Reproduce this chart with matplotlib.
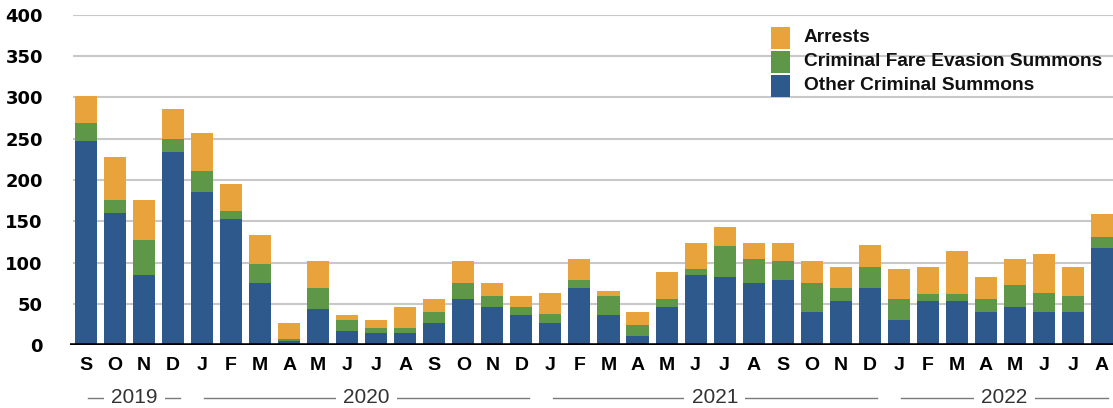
import matplotlib
matplotlib.use("Agg")
import matplotlib.pyplot as plt
import matplotlib.transforms as mtransforms
from matplotlib.patches import Rectangle
import numpy as np

# Monthly counts, Sep 2019 - Aug 2022
months = ["S", "O", "N", "D",
          "J", "F", "M", "A", "M", "J", "J", "A", "S", "O", "N", "D",
          "J", "F", "M", "A", "M", "J", "J", "A", "S", "O", "N", "D",
          "J", "F", "M", "A", "M", "J", "J", "A"]
years = ["2019", "2020", "2021", "2022"]
year_first_month = [0, 4, 16, 28]
year_last_month = [3, 15, 27, 35]

other_summons = [247, 160, 85, 234, 185, 153, 75, 5, 44, 17, 15,
                 15, 27, 56, 46, 36, 27, 69, 36, 11, 46, 85, 82,
                 75, 79, 40, 53, 69, 30, 53, 53, 40, 46, 40, 40, 118]
fare_evasion = [22, 16, 42, 16, 26, 9, 23, 2, 25, 13, 6,
                6, 13, 19, 13, 10, 11, 10, 23, 13, 10, 7, 38,
                29, 23, 35, 16, 26, 26, 9, 9, 16, 27, 23, 19, 13]
arrests = [33, 52, 49, 36, 46, 33, 35, 20, 33, 6, 9,
           25, 16, 27, 16, 13, 25, 25, 6, 16, 32, 32, 23,
           20, 22, 27, 26, 26, 36, 33, 52, 26, 31, 47, 36, 28]

series_labels = ["Arrests", "Criminal Fare Evasion Summons", "Other Criminal Summons"]

blue = "#2E598C"
green = "#5E9748"
orange = "#E8A33C"

W, H = 1113, 408
fig = plt.figure(figsize=(W / 100, H / 100), dpi=100)
ax = fig.add_axes([70 / W, 63 / H, 1 - 70 / W, 330 / H])

x = np.arange(len(months))
w = 0.76
other = np.array(other_summons)
fare = np.array(fare_evasion)
arr = np.array(arrests)

ax.bar(x, other, w, color=blue, zorder=2)
ax.bar(x, fare, w, bottom=other, color=green, zorder=2)
ax.bar(x, arr, w, bottom=other + fare, color=orange, zorder=2)

ax.set_xlim(-0.551, 35.38)
ax.set_ylim(0, 400)

# grid lines start a little right of the baseline
ax.hlines(np.arange(50, 401, 50), -0.45, 35.38, color="#C8C8C8", lw=1.5, zorder=0)
ax.axhline(0, color="black", lw=2.6, zorder=3)

for s in ax.spines.values():
    s.set_visible(False)

ax.set_yticks(np.arange(0, 401, 50))
ax.set_yticklabels([str(v) for v in range(0, 401, 50)],
                   fontfamily="DejaVu Sans", fontweight="bold", fontsize=13)
ax.tick_params(axis="y", length=0, pad=19.5)

ax.set_xticks(x)
ax.set_xticklabels(months, fontfamily="Liberation Sans", fontweight="bold", fontsize=14)
ax.tick_params(axis="x", length=0, pad=9)

# year captions under the month letters
trans = mtransforms.blended_transform_factory(ax.transData, ax.transAxes)
for yr, a, b in zip(years, year_first_month, year_last_month):
    x0 = a + 0.08
    x1 = min(b + 0.25, 35.2)
    ax.plot([x0, x1], [-0.161, -0.161], transform=trans, color="#7A7A7A",
            lw=1.0, clip_on=False, zorder=1)
    ax.text((x0 + x1) / 2, -0.158, yr, transform=trans, ha="center", va="center",
            fontfamily="Liberation Sans", fontsize=15, color="#333333", zorder=2,
            bbox=dict(boxstyle="square,pad=0.35", fc="white", ec="none"))

# legend drawn by hand: square swatches with small gaps, pixel placement
for i, (lab, col) in enumerate(zip(series_labels, [orange, green, blue])):
    top = 27 + i * 24
    fig.add_artist(Rectangle((771 / W, 1 - (top + 22) / H), 19 / W, 22 / H,
                             transform=fig.transFigure, color=col, lw=0))
    fig.text(804 / W, 1 - (top + 11) / H, lab, ha="left", va="center",
             fontfamily="Liberation Sans", fontweight="bold", fontsize=13.8,
             color="#111111")

fig.savefig("out.png", dpi=100)
